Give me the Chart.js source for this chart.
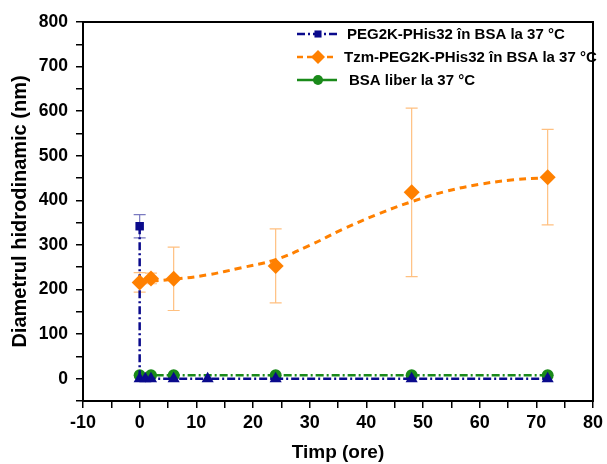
<!DOCTYPE html>
<html>
<head>
<meta charset="utf-8">
<script src="https://cdn.jsdelivr.net/npm/chart.js@4"></script>
<style>
  html, body { margin: 0; padding: 0; background: #fff; }
  #wrap { width: 607px; height: 464px; position: relative; }
</style>
</head>
<body>
<div id="wrap"><canvas id="chart" width="607" height="464"></canvas></div>
<script>
// PEG2K-PHis32 in BSA
const timeBlue = [0, 0, 1, 2, 6, 12, 24, 48, 72];
const sizeBlue = [342, 0, 0, 0, 0, 0, 0, 0, 0];
const errBlue = [26, 0, 0, 0, 0, 0, 0, 0, 0];

// Tzm-PEG2K-PHis32 in BSA
const timeOrange = [0, 2, 6, 24, 48, 72];
const sizeOrange = [216, 225, 224, 253, 418, 452];
const errOrange = [22, 12, 71, 83, 189, 107];

// fitted curve for the orange series
const fitTime = [0, 6, 12, 18, 24, 30, 36, 42, 48, 54, 60, 66, 72];
const fitSize = [217, 223, 233, 249, 267, 299, 336, 369, 397, 420, 436, 446, 451];

// BSA liber
const timeGreen = [0, 2, 6, 24, 48, 72];
const sizeGreen = [8, 8, 8, 8, 8, 8];

const legendLabels = [
  "PEG2K-PHis32 \u00een BSA la 37 \u00b0C",
  "Tzm-PEG2K-PHis32 \u00een BSA la 37 \u00b0C",
  "BSA liber la 37 \u00b0C",
];

const NAVY = "#0a0a8c";
const ORANGE = "#ff8000";
const ORANGE_ERR = "#ffc080";
const GREEN = "#1a8a1a";
const dashDot = [8, 3, 2, 3];
const FAMILY = "'Liberation Sans', Arial, sans-serif";

const pts = (xs, ys) => xs.map((x, i) => ({ x, y: ys[i] }));

const errorBars = {
  id: "errorBars",
  beforeDatasetsDraw(chart) {
    const { ctx, scales: { x, y } } = chart;
    const draw = (xs, ys, es, color) => {
      ctx.save();
      ctx.strokeStyle = color;
      ctx.lineWidth = 1.2;
      xs.forEach((t, i) => {
        if (!es[i]) return;
        const px = x.getPixelForValue(t);
        const top = y.getPixelForValue(ys[i] + es[i]);
        const bot = y.getPixelForValue(ys[i] - es[i]);
        ctx.beginPath();
        ctx.moveTo(px, top); ctx.lineTo(px, bot);
        ctx.moveTo(px - 6, top); ctx.lineTo(px + 6, top);
        ctx.moveTo(px - 6, bot); ctx.lineTo(px + 6, bot);
        ctx.stroke();
      });
      ctx.restore();
    };
    draw(timeOrange, sizeOrange, errOrange, ORANGE_ERR);
    draw(timeBlue, sizeBlue, errBlue, "#7a7ac0");
  },
};

const frameAndLegend = {
  id: "frameAndLegend",
  afterDraw(chart) {
    const { ctx, chartArea: a } = chart;
    ctx.save();
    ctx.strokeStyle = "#000";
    ctx.lineWidth = 2;
    ctx.strokeRect(a.left, a.top, a.right - a.left, a.bottom - a.top);

    const items = [
      { color: NAVY, dash: dashDot, style: "rect", r: 5, tx: 347 },
      { color: ORANGE, dash: [6, 4], style: "rectRot", r: 7, tx: 344 },
      { color: GREEN, dash: [], style: "circle", r: 5, tx: 349 },
    ];
    ctx.font = "bold 15px " + FAMILY;
    ctx.textBaseline = "middle";
    items.forEach((it, i) => {
      const yy = 34 + i * 23;
      ctx.strokeStyle = it.color;
      ctx.lineWidth = 2.5;
      ctx.setLineDash(it.dash);
      ctx.beginPath();
      ctx.moveTo(297, yy); ctx.lineTo(337, yy);
      ctx.stroke();
      ctx.setLineDash([]);
      ctx.fillStyle = it.color;
      Chart.helpers.drawPoint(ctx, { pointStyle: it.style, radius: it.r, borderWidth: 0 }, 318, yy);
      ctx.fillStyle = "#000";
      ctx.fillText(legendLabels[i], it.tx, yy + 1);
    });
    ctx.restore();
  },
};

new Chart(document.getElementById("chart"), {
  type: "scatter",
  data: {
    datasets: [
      {
        label: legendLabels[0],
        data: pts(timeBlue, sizeBlue),
        showLine: true,
        borderColor: NAVY,
        backgroundColor: NAVY,
        borderWidth: 2.5,
        borderDash: dashDot,
        pointStyle: timeBlue.map((_, i) => (i === 0 ? "rect" : "triangle")),
        pointRadius: timeBlue.map((_, i) => (i === 0 ? 6 : 7)),
        pointBorderWidth: 0,
        order: 1,
      },
      {
        label: "fit",
        data: pts(fitTime, fitSize),
        showLine: true,
        borderColor: ORANGE,
        borderWidth: 3,
        borderDash: [7, 5],
        tension: 0.4,
        pointRadius: 0,
        order: 3,
      },
      {
        label: legendLabels[1],
        data: pts(timeOrange, sizeOrange),
        showLine: false,
        backgroundColor: ORANGE,
        borderColor: ORANGE,
        pointStyle: "rectRot",
        pointRadius: 8,
        pointBorderWidth: 0,
        order: 0,
      },
      {
        label: legendLabels[2],
        data: pts(timeGreen, sizeGreen),
        showLine: true,
        borderColor: GREEN,
        backgroundColor: GREEN,
        borderWidth: 2.5,
        borderDash: dashDot,
        pointStyle: "circle",
        pointRadius: 6,
        pointBorderWidth: 0,
        order: 2,
      },
    ],
  },
  options: {
    responsive: false,
    animation: false,
    layout: { padding: { top: 22, right: 10, left: 4, bottom: 0 } },
    plugins: { legend: { display: false }, tooltip: { enabled: false } },
    scales: {
      x: {
        type: "linear",
        min: -10,
        max: 80,
        border: { display: false },
        grid: { drawOnChartArea: false, drawTicks: true, tickLength: 7, color: "#000", lineWidth: 1.5 },
        ticks: {
          stepSize: 5,
          color: "#000",
          font: { family: FAMILY, weight: "bold", size: 18 },
          padding: 4,
          maxRotation: 0,
          autoSkip: false,
          callback: (v) => (v % 10 === 0 ? v : ""),
        },
        title: { display: true, text: "Timp (ore)", color: "#000", font: { family: FAMILY, weight: "bold", size: 19 }, padding: { top: 6, bottom: 0 } },
        afterFit: (s) => { s.height = 63; },
      },
      y: {
        min: -50,
        max: 800,
        border: { display: false },
        grid: { drawOnChartArea: false, drawTicks: true, tickLength: 7, color: "#000", lineWidth: 1.5 },
        ticks: {
          stepSize: 50,
          color: "#000",
          font: { family: FAMILY, weight: "bold", size: 17.5 },
          padding: 8,
          autoSkip: false,
          callback: (v) => (v % 100 === 0 ? v : ""),
        },
        title: { display: true, text: "Diametrul hidrodinamic (nm)", color: "#000", font: { family: FAMILY, weight: "bold", size: 20 }, padding: { bottom: 2 } },
        afterFit: (s) => { s.width = 79; },
      },
    },
  },
  plugins: [errorBars, frameAndLegend],
});
</script>
</body>
</html>
